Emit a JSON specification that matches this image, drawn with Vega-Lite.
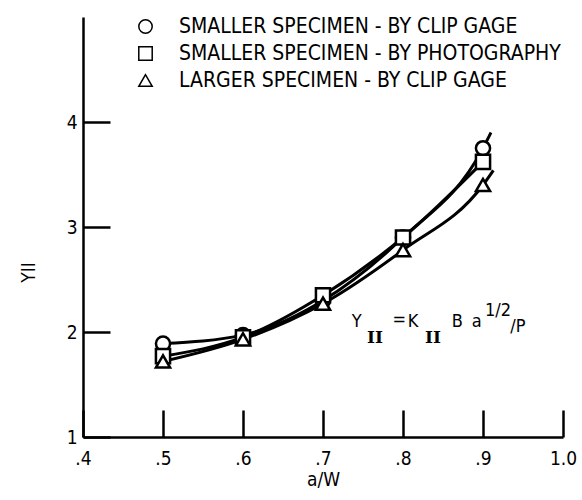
{
  "$schema": "https://vega.github.io/schema/vega-lite/v6.json",
  "width": 480,
  "height": 420,
  "autosize": {"type": "none"},
  "padding": {"left": 83, "top": 17, "right": 19, "bottom": 63},
  "background": "white",
  "config": {
    "view": {"stroke": null},
    "font": "DejaVu Sans Condensed",
    "axis": {
      "domainColor": "black", "domainWidth": 2.5, "tickColor": "black", "tickWidth": 2.5,
      "labelColor": "black", "labelFont": "DejaVu Sans Condensed", "labelFontSize": 19,
      "titleColor": "black", "titleFont": "DejaVu Sans Condensed", "titleFontSize": 19, "titleFontWeight": "normal",
      "grid": false
    }
  },
  "datasets": {
    "pts": [
      {"aw": 0.5, "y": 1.89, "series": "SMALLER SPECIMEN - BY CLIP GAGE"},
      {"aw": 0.6, "y": 1.97, "series": "SMALLER SPECIMEN - BY CLIP GAGE"},
      {"aw": 0.7, "y": 2.3, "series": "SMALLER SPECIMEN - BY CLIP GAGE"},
      {"aw": 0.8, "y": 2.9, "series": "SMALLER SPECIMEN - BY CLIP GAGE"},
      {"aw": 0.9, "y": 3.75, "series": "SMALLER SPECIMEN - BY CLIP GAGE"},
      {"aw": 0.5, "y": 1.77, "series": "SMALLER SPECIMEN - BY PHOTOGRAPHY"},
      {"aw": 0.6, "y": 1.95, "series": "SMALLER SPECIMEN - BY PHOTOGRAPHY"},
      {"aw": 0.7, "y": 2.35, "series": "SMALLER SPECIMEN - BY PHOTOGRAPHY"},
      {"aw": 0.8, "y": 2.9, "series": "SMALLER SPECIMEN - BY PHOTOGRAPHY"},
      {"aw": 0.9, "y": 3.62, "series": "SMALLER SPECIMEN - BY PHOTOGRAPHY"},
      {"aw": 0.5, "y": 1.72, "series": "LARGER SPECIMEN - BY CLIP GAGE"},
      {"aw": 0.6, "y": 1.93, "series": "LARGER SPECIMEN - BY CLIP GAGE"},
      {"aw": 0.7, "y": 2.27, "series": "LARGER SPECIMEN - BY CLIP GAGE"},
      {"aw": 0.8, "y": 2.78, "series": "LARGER SPECIMEN - BY CLIP GAGE"},
      {"aw": 0.9, "y": 3.4, "series": "LARGER SPECIMEN - BY CLIP GAGE"}
    ],
    "curves": [
      {"aw": 0.5, "y": 1.89, "curve": "A"},
      {"aw": 0.6, "y": 1.97, "curve": "A"},
      {"aw": 0.7, "y": 2.3, "curve": "A"},
      {"aw": 0.8, "y": 2.9, "curve": "A"},
      {"aw": 0.9, "y": 3.75, "curve": "A"},
      {"aw": 0.91, "y": 3.9, "curve": "A"},
      {"aw": 0.5, "y": 1.77, "curve": "B"},
      {"aw": 0.6, "y": 1.95, "curve": "B"},
      {"aw": 0.7, "y": 2.35, "curve": "B"},
      {"aw": 0.8, "y": 2.9, "curve": "B"},
      {"aw": 0.9, "y": 3.62, "curve": "B"},
      {"aw": 0.5, "y": 1.72, "curve": "C"},
      {"aw": 0.6, "y": 1.93, "curve": "C"},
      {"aw": 0.7, "y": 2.27, "curve": "C"},
      {"aw": 0.8, "y": 2.78, "curve": "C"},
      {"aw": 0.9, "y": 3.4, "curve": "C"},
      {"aw": 0.913, "y": 3.54, "curve": "C"}
    ],
    "eq": [
      {"aw": 0.736, "y": 2.048, "text": "Y", "kind": "main"},
      {"aw": 0.755, "y": 1.9, "text": "II", "kind": "roman"},
      {"aw": 0.787, "y": 2.07, "text": "=", "kind": "main"},
      {"aw": 0.806, "y": 2.048, "text": "K", "kind": "main"},
      {"aw": 0.8275, "y": 1.9, "text": "II", "kind": "roman"},
      {"aw": 0.861, "y": 2.048, "text": "B", "kind": "main"},
      {"aw": 0.886, "y": 2.048, "text": "a", "kind": "main"},
      {"aw": 0.9025, "y": 2.152, "text": "1/2", "kind": "main"},
      {"aw": 0.934, "y": 2.0, "text": "/P", "kind": "main"}
    ]
  },
  "layer": [
    {
      "data": {"name": "curves"},
      "mark": {"type": "line", "color": "black", "strokeWidth": 3, "interpolate": "monotone"},
      "encoding": {
        "x": {"field": "aw", "type": "quantitative",
          "scale": {"domain": [0.4, 1.0], "nice": false, "zero": false},
          "axis": {"values": [0.4, 0.5, 0.6, 0.7, 0.8, 0.9, 1.0], "tickSize": -27,
            "labelExpr": "datum.value > 0.99 ? '1.0' : '.' + format(datum.value * 10, '.0f')",
            "labelPadding": 39, "title": "a/W", "titlePadding": 2, "labelFlush": false}},
        "y": {"field": "y", "type": "quantitative",
          "scale": {"domain": [1, 5], "nice": false, "zero": false},
          "axis": {"values": [1, 2, 3, 4], "tickSize": -27, "labelPadding": 33, "format": "d",
            "title": "YII", "titleX": -45, "titleY": 255, "titleAlign": "center"}},
        "detail": {"field": "curve"}
      }
    },
    {
      "data": {"name": "pts"},
      "mark": {"type": "point", "filled": false, "fill": "white", "fillOpacity": 1, "stroke": "black", "strokeWidth": 2.5, "size": 200, "opacity": 1},
      "encoding": {
        "x": {"field": "aw", "type": "quantitative"},
        "y": {"field": "y", "type": "quantitative"},
        "shape": {"field": "series", "type": "nominal",
          "scale": {"domain": ["SMALLER SPECIMEN - BY CLIP GAGE", "SMALLER SPECIMEN - BY PHOTOGRAPHY", "LARGER SPECIMEN - BY CLIP GAGE"],
                    "range": ["circle", "square", "triangle-up"]},
          "legend": {"title": null, "orient": "none", "legendX": 52, "legendY": -1,
            "labelFont": "DejaVu Sans Condensed", "labelFontSize": 21, "labelColor": "black",
            "symbolSize": 180, "labelOffset": 23, "rowPadding": 5, "labelLimit": 500,
            "encode": {"symbols": {"update": {"fill": {"value": "white"}, "stroke": {"value": "black"}, "strokeWidth": {"value": 2.4}, "opacity": {"value": 1}}}}}}
      }
    },
    {
      "data": {"name": "eq"},
      "transform": [{"filter": "datum.kind == 'main'"}],
      "mark": {"type": "text", "align": "left", "baseline": "alphabetic", "fontSize": 18, "font": "DejaVu Sans Condensed", "color": "black"},
      "encoding": {
        "x": {"field": "aw", "type": "quantitative"},
        "y": {"field": "y", "type": "quantitative"},
        "text": {"field": "text"}
      }
    },
    {
      "data": {"name": "eq"},
      "transform": [{"filter": "datum.kind == 'roman'"}],
      "mark": {"type": "text", "align": "left", "baseline": "alphabetic", "fontSize": 17, "font": "DejaVu Serif", "fontWeight": "bold", "color": "black"},
      "encoding": {
        "x": {"field": "aw", "type": "quantitative"},
        "y": {"field": "y", "type": "quantitative"},
        "text": {"field": "text"}
      }
    }
  ]
}
